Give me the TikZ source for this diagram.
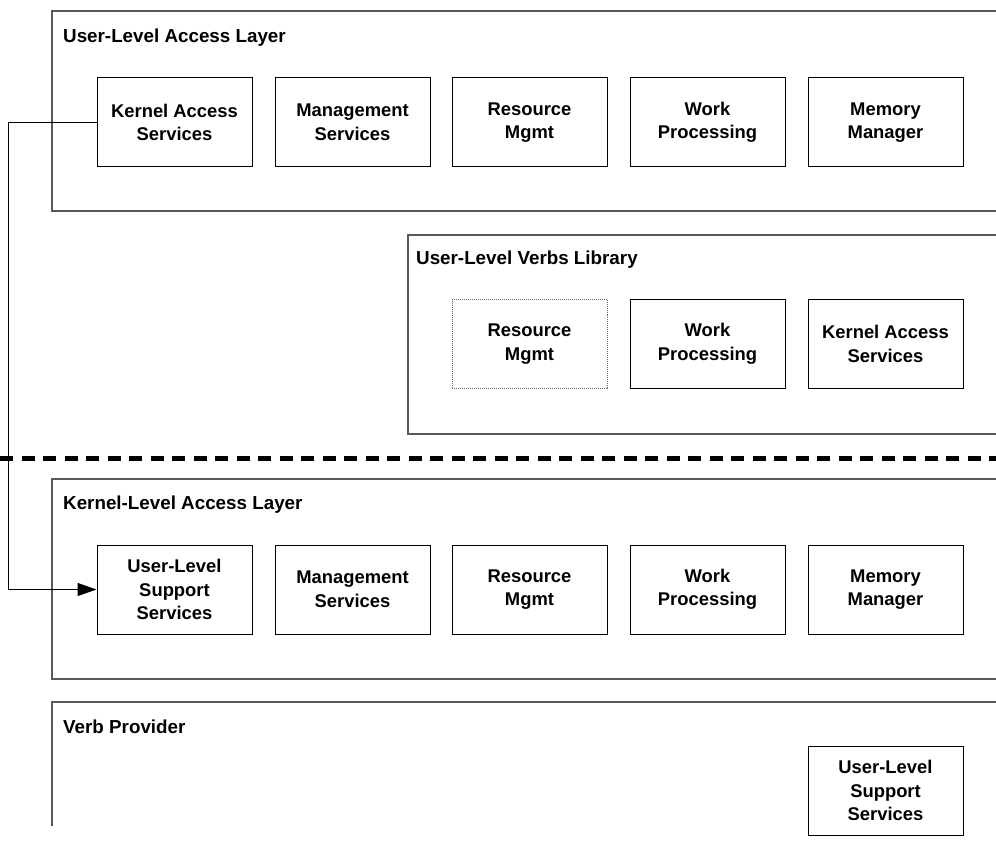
\documentclass[tikz,border=0pt]{standalone}
\usepackage{fontspec}
\setmainfont{Liberation Sans}
\usetikzlibrary{arrows.meta}
\tikzset{
  layer/.style={draw=black!65, line width=1.3pt},
  title/.style={anchor=west, font=\fontsize{18.8}{22}\selectfont\bfseries, inner sep=0pt},
  comp/.style={draw=black, line width=1pt, minimum width=155pt, minimum height=89pt,
    align=center, font=\fontsize{18.4}{23.5}\selectfont\bfseries, inner sep=0pt},
  dotcomp/.style={comp, draw=black!60, dash pattern=on 1pt off 1pt},
  link/.style={draw=black, line width=1pt, -{Triangle[length=19pt,width=13pt]}}
}
\begin{document}
\begin{tikzpicture}[x=1pt, y=-1pt]
\clip (0,0) rectangle (996,853);
\fill[white] (0,0) rectangle (996,853);

% user-level access layer
\draw[layer] (1010,11) -- (52,11) -- (52,211) -- (1010,211);
\node[title] (ual) at (63,37.5) {User-Level Access Layer};
\node[comp] (u1) at (174.5,122.5) {Kernel Access\\Services};
\node[comp] (u2) at (352.5,122.5) {Management\\Services};
\node[comp] (u3) at (529.5,122.5) {Resource\\Mgmt};
\node[comp] (u4) at (707.5,122.5) {Work\\Processing};
\node[comp] (u5) at (885.5,122.5) {Memory\\Manager};

% user-level verbs library
\draw[layer] (1010,235) -- (408,235) -- (408,434) -- (1010,434);
\node[title] (uvl) at (416,260) {User-Level Verbs Library};
\node[dotcomp] (v1) at (529.5,344) {Resource\\Mgmt};
\node[comp] (v2) at (707.5,344) {Work\\Processing};
\node[comp] (v3) at (885.5,344) {Kernel Access\\Services};

% user/kernel boundary
\draw[line width=5pt, dash pattern=on 13pt off 8.5pt] (0,458) -- (996,458);

% kernel-level access layer
\draw[layer] (1010,479) -- (52,479) -- (52,679) -- (1010,679);
\node[title] (kal) at (63,505) {Kernel-Level Access Layer};
\node[comp] (k1) at (174.5,589.5) {User-Level\\Support\\Services};
\node[comp] (k2) at (352.5,589.5) {Management\\Services};
\node[comp] (k3) at (529.5,589.5) {Resource\\Mgmt};
\node[comp] (k4) at (707.5,589.5) {Work\\Processing};
\node[comp] (k5) at (885.5,589.5) {Memory\\Manager};

% verb provider
\draw[layer] (52,826) -- (52,702) -- (1010,702);
\node[title] (vp) at (63,727) {Verb Provider};
\node[comp] (p1) at (885.5,790.5) {User-Level\\Support\\Services};

% kernel access services -> user-level support services
\coordinate (bend) at (8,0);
\draw[link] (u1.west) -- (u1.west -| bend) -- (k1.west -| bend) -- (k1.west);
\end{tikzpicture}
\end{document}
